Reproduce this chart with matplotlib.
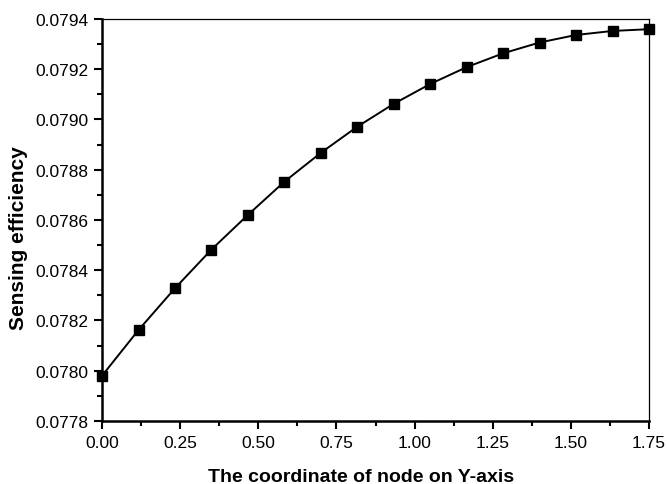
import numpy as np
import matplotlib.pyplot as plt
from matplotlib.ticker import MultipleLocator, FormatStrFormatter

plt.rcParams['font.family'] = ['Liberation Sans', 'DejaVu Sans']

# node coordinate on Y-axis and sensing efficiency
y_coord = [0.0, 0.1167, 0.2333, 0.35, 0.4667, 0.5833, 0.7, 0.8167,
           0.9333, 1.05, 1.1667, 1.2833, 1.4, 1.5167, 1.6333, 1.75]
efficiency = [0.07798, 0.078162, 0.078328, 0.078482, 0.07862, 0.078752,
              0.078867, 0.078971, 0.079062, 0.079141, 0.079208, 0.079263,
              0.079306, 0.079336, 0.079352, 0.079359]

fig = plt.figure(figsize=(6.67, 4.85), dpi=100)
ax = fig.add_axes([0.153, 0.130, 0.820, 0.829])

ax.plot(y_coord, efficiency, color='black', linewidth=1.4,
        marker='s', markersize=6.5, clip_on=False, zorder=3)

ax.set_xlim(0, 1.75)
ax.set_ylim(0.0778, 0.0794)
ax.xaxis.set_major_locator(MultipleLocator(0.25))
ax.xaxis.set_minor_locator(MultipleLocator(0.125))
ax.yaxis.set_major_locator(MultipleLocator(0.0002))
ax.yaxis.set_minor_locator(MultipleLocator(0.0001))
ax.xaxis.set_major_formatter(FormatStrFormatter('%.2f'))
ax.yaxis.set_major_formatter(FormatStrFormatter('%.4f'))

ax.tick_params(which='both', direction='out', top=False, right=False,
               labelsize=12.5, width=1.5, pad=4)
ax.tick_params(which='major', length=6)
ax.tick_params(which='minor', length=3.5)

for side in ['left', 'bottom']:
    ax.spines[side].set_linewidth(1.8)
for side in ['top', 'right']:
    ax.spines[side].set_linewidth(0.9)

ax.set_xlabel('The coordinate of node on Y-axis', fontsize=14,
              fontweight='bold', labelpad=13)
ax.xaxis.label.set_x(0.4735)
ax.set_ylabel('Sensing efficiency', fontsize=15, fontweight='bold',
              labelpad=5)
ax.yaxis.label.set_y(0.458)

fig.savefig('out.png', dpi=100)
